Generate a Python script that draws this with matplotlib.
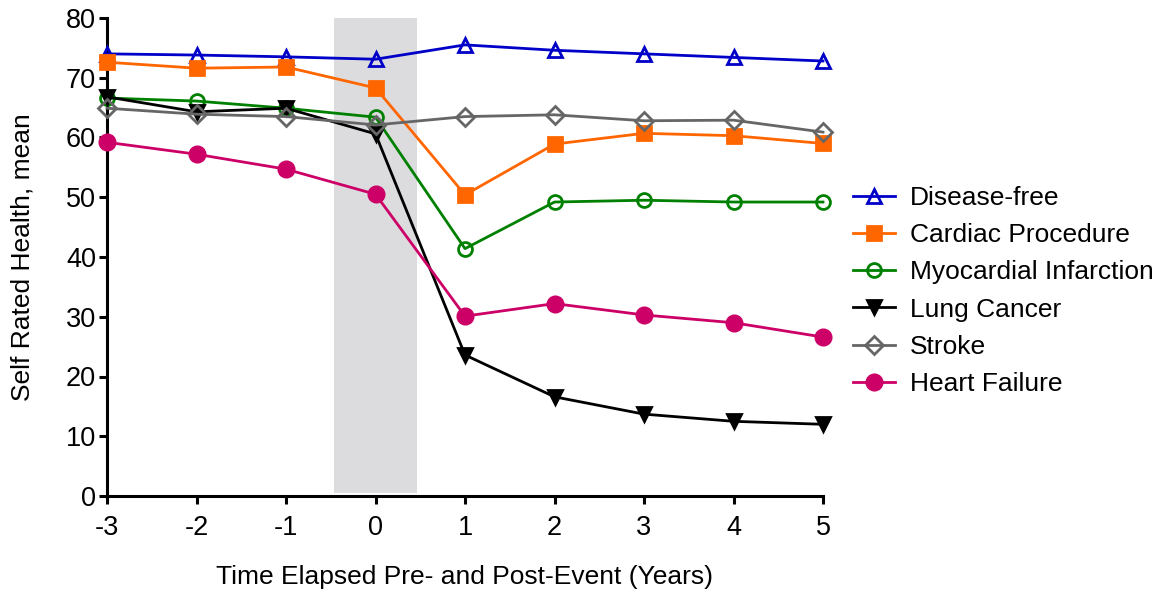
import matplotlib
matplotlib.use("Agg")
import matplotlib.pyplot as plt

plt.rcParams['font.family'] = ['Liberation Sans', 'DejaVu Sans']

# data
years = [-3, -2, -1, 0, 1, 2, 3, 4, 5]

disease_free = [74.0, 73.8, 73.5, 73.1, 75.5, 74.6, 74.0, 73.4, 72.8]
cardiac_proc = [72.6, 71.6, 71.8, 68.3, 50.4, 58.9, 60.7, 60.3, 59.0]
myocardial = [66.6, 66.1, 64.9, 63.4, 41.4, 49.2, 49.5, 49.2, 49.2]
lung_cancer = [66.8, 64.3, 64.9, 60.6, 23.6, 16.6, 13.7, 12.5, 12.0]
stroke = [64.9, 63.9, 63.5, 62.1, 63.5, 63.8, 62.8, 62.9, 60.9]
heart_failure = [59.2, 57.2, 54.7, 50.5, 30.1, 32.2, 30.3, 29.0, 26.6]

series = [
    ("Disease-free", disease_free, "#0000C8", "^", "none", 10),
    ("Cardiac Procedure", cardiac_proc, "#FF6600", "s", "#FF6600", 10.5),
    ("Myocardial Infarction", myocardial, "#008000", "o", "none", 10),
    ("Lung Cancer", lung_cancer, "#000000", "v", "#000000", 10.5),
    ("Stroke", stroke, "#666666", "D", "none", 9),
    ("Heart Failure", heart_failure, "#CC0066", "o", "#CC0066", 11),
]

fig = plt.figure(figsize=(11.61, 5.94), dpi=100)
ax = fig.add_axes([107 / 1161, 1 - 496 / 594, 716 / 1161, 478 / 594])

# shaded event window
ax.axvspan(-0.46, 0.46, ymin=0.006, ymax=1.0, color="#DCDCDE", lw=0, zorder=0)

for name, vals, col, mk, fc, ms in series:
    ax.plot(years, vals, color=col, lw=2, marker=mk, markersize=ms,
            markerfacecolor=fc, markeredgecolor=col, markeredgewidth=2,
            label=name, clip_on=False, zorder=3)

ax.set_xlim(-3, 5)
ax.set_ylim(0, 80)
ax.set_xticks(years)
ax.set_yticks(range(0, 81, 10))
ax.set_xticklabels([str(y) for y in years])

for s in ["top", "right"]:
    ax.spines[s].set_visible(False)
for s in ["left", "bottom"]:
    ax.spines[s].set_linewidth(2.2)
ax.tick_params(direction="out", length=6, width=2.2, labelsize=19.5, pad=2)
ax.tick_params(axis="x", pad=8)

ax.set_ylabel("Self Rated Health, mean", fontsize=19)
ax.yaxis.set_label_coords(-0.101, 0.5)
ax.set_xlabel("Time Elapsed Pre- and Post-Event (Years)", fontsize=19)
ax.xaxis.set_label_coords(0.5, -0.145)

fig.legend(loc="center left", bbox_to_anchor=(853 / 1161, 1 - 291 / 594),
           frameon=False, fontsize=19, borderpad=0, borderaxespad=0,
           handlelength=1.6, handletextpad=0.55, labelspacing=0.5)

fig.savefig("out.png", dpi=100)
